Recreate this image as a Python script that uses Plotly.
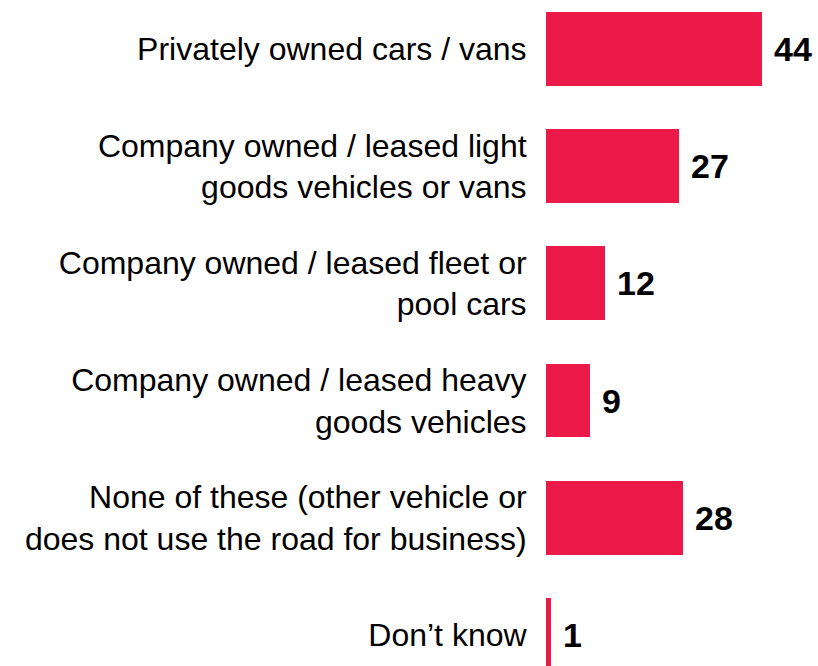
import plotly.graph_objects as go

categories = [
    "Privately owned cars / vans",
    "Company owned / leased light<br>goods vehicles or vans",
    "Company owned / leased fleet or<br>pool cars",
    "Company owned / leased heavy<br>goods vehicles",
    "None of these (other vehicle or<br>does not use the road for business)",
    "Don\u2019t know",
]
values = [44, 27, 12, 9, 28, 1]

positions = list(range(len(categories)))
bar_color = "#EC1A48"
font_family = "Liberation Sans, Arial, sans-serif"

fig = go.Figure(
    go.Bar(
        x=values,
        y=positions,
        orientation="h",
        width=0.63,
        marker=dict(color=bar_color, line=dict(width=0)),
        hoverinfo="skip",
    )
)

# bold value labels just past the end of each bar
for pos, val in zip(positions, values):
    fig.add_annotation(
        x=val, y=pos, text=f"<b>{val}</b>", showarrow=False,
        xanchor="left", yanchor="middle", xshift=10,
        font=dict(family=font_family, size=34, color="#000000"),
    )

fig.update_layout(
    width=818,
    height=666,
    margin=dict(l=546, r=0, t=0, b=0),
    paper_bgcolor="white",
    plot_bgcolor="white",
    showlegend=False,
    bargap=0,
    font=dict(family=font_family, color="#000000"),
)
fig.update_xaxes(range=[0, 55.4], visible=False, fixedrange=True)
fig.update_yaxes(
    range=[5.265, -0.418],
    tickmode="array",
    tickvals=positions,
    ticktext=categories,
    tickfont=dict(size=32, color="#000000"),
    ticks="outside",
    ticklen=12,
    tickcolor="rgba(0,0,0,0)",
    showgrid=False,
    zeroline=False,
    showline=False,
    fixedrange=True,
)

fig.write_html("out.html")
